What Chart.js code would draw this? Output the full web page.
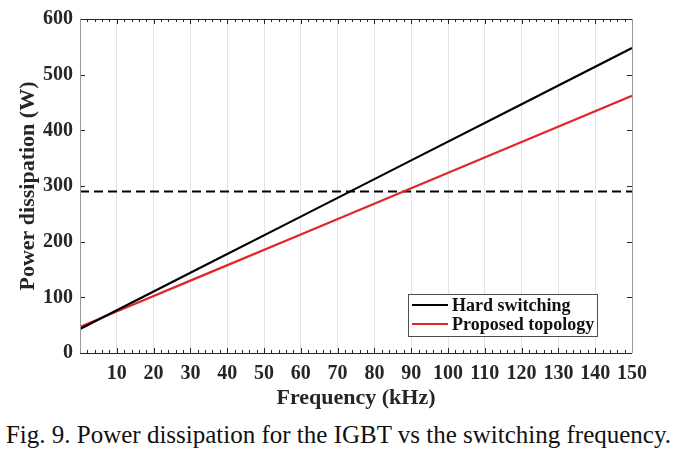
<!DOCTYPE html>
<html>
<head>
<meta charset="utf-8">
<script src="https://cdn.jsdelivr.net/npm/chart.js@4/dist/chart.umd.min.js"></script>
<style>
  body { margin: 0; background: #fff; width: 677px; height: 457px; position: relative; overflow: hidden; }
  #wrap { position: absolute; left: 0; top: 0; width: 677px; height: 415px; }
  #caption { position: absolute; left: 0; top: 421px; width: 677px; text-align: center;
             font-family: "Liberation Serif", "Times New Roman", serif; font-size: 25px; color: #111; white-space: nowrap; }
</style>
</head>
<body>
<div id="wrap"><canvas id="power-chart" width="677" height="415"></canvas></div>
<div id="caption">Fig. 9. Power dissipation for the IGBT vs the switching frequency.</div>
<script>
// valori
const frequency = [0, 30, 60, 90, 120, 150];
const hardSwitching = [43, 144, 245, 346, 447, 548];
const proposedTopology = [47, 130, 213, 296, 379, 462];
const limitFreq = [0, 150];
const limitPower = [290, 290];
const seriesLabels = ['Hard switching', 'Proposed topology'];

const serif = '"Liberation Serif", "Times New Roman", serif';

const toPoints = function(xs, ys){
    return xs.map(function(x, i){ return {x: x, y: ys[i]}; });
};

// cornice, tacche interne e legenda
const framePlugin = {
    id: 'frame',
    afterDraw: function(chart){
        const ctx = chart.ctx;
        const a = chart.chartArea;
        const xs = chart.scales.x, ys = chart.scales.y;
        ctx.save();
        ctx.lineWidth = 1;
        // tacche asse x
        ctx.strokeStyle = '#262626';
        for (let f = 0; f <= 150; f += 2) {
            let px = Math.round(xs.getPixelForValue(f)) + 0.5;
            let len = (f % 10 === 0) ? 5 : 3;
            ctx.beginPath();
            ctx.moveTo(px, a.bottom); ctx.lineTo(px, a.bottom - len);
            ctx.moveTo(px, a.top); ctx.lineTo(px, a.top + len);
            ctx.stroke();
        }
        // tacche asse y
        for (let p = 100; p < 600; p += 100) {
            let py = Math.round(ys.getPixelForValue(p)) + 0.5;
            ctx.beginPath();
            ctx.moveTo(a.left, py); ctx.lineTo(a.left + 5, py);
            ctx.moveTo(a.right, py); ctx.lineTo(a.right - 5, py);
            ctx.stroke();
        }
        // bordi
        ctx.beginPath();
        ctx.moveTo(a.left, a.top + 0.5); ctx.lineTo(a.right, a.top + 0.5);
        ctx.moveTo(a.left, a.bottom + 0.5); ctx.lineTo(a.right, a.bottom + 0.5);
        ctx.stroke();
        ctx.strokeStyle = '#9a9a9a';
        ctx.beginPath();
        ctx.moveTo(a.left + 0.5, a.top); ctx.lineTo(a.left + 0.5, a.bottom);
        ctx.moveTo(a.right + 0.5, a.top); ctx.lineTo(a.right + 0.5, a.bottom);
        ctx.stroke();

        // legenda
        const lx = 408.5, ly = 294.5, lw = 189, lh = 42;
        ctx.fillStyle = '#fff';
        ctx.fillRect(lx, ly, lw, lh);
        ctx.strokeStyle = '#4d4d4d';
        ctx.strokeRect(lx, ly, lw, lh);
        ctx.font = 'bold 18px ' + serif;
        ctx.textBaseline = 'middle';
        ctx.textAlign = 'left';
        chart.data.datasets.slice(0, 2).forEach(function(ds, i){
            let yy = 305 + i * 19;
            ctx.strokeStyle = ds.borderColor;
            ctx.lineWidth = 2;
            ctx.beginPath();
            ctx.moveTo(412, yy); ctx.lineTo(448, yy);
            ctx.stroke();
            ctx.fillStyle = '#111';
            ctx.fillText(ds.label, 452, yy + 1);
        });
        ctx.restore();
    }
};

const ctx = document.getElementById('power-chart').getContext('2d');
const powerChart = new Chart(ctx, {
    type: 'line',
    data: {
        datasets: [{
            label: seriesLabels[0],
            data: toPoints(frequency, hardSwitching),
            borderColor: '#000000',
            borderWidth: 2.2,
            pointRadius: 0,
            tension: 0
        }, {
            label: seriesLabels[1],
            data: toPoints(frequency, proposedTopology),
            borderColor: '#e0262a',
            borderWidth: 2.2,
            pointRadius: 0,
            tension: 0
        }, {
            label: 'limit',
            data: toPoints(limitFreq, limitPower),
            borderColor: '#000000',
            borderWidth: 2,
            borderDash: [9, 5],
            pointRadius: 0
        }]
    },
    options: {
        responsive: false,
        animation: false,
        layout: { padding: { top: 18, right: 45, left: 0, bottom: 0 } },
        plugins: {
            legend: { display: false },
            tooltip: { enabled: false }
        },
        scales: {
            x: {
                type: 'linear',
                min: 0,
                max: 150,
                border: { display: false },
                grid: { color: '#e4e4e4', drawTicks: false, lineWidth: 1 },
                ticks: {
                    stepSize: 10,
                    padding: 9,
                    color: '#262626',
                    font: { family: serif, size: 20, weight: 'bold' },
                    callback: function(v){ return v === 0 ? '' : v; }
                },
                title: {
                    display: true,
                    text: 'Frequency (kHz)',
                    color: '#262626',
                    font: { family: serif, size: 22, weight: 'bold' },
                    padding: { top: 0, bottom: 3 }
                },
                afterFit: function(s){ s.height = 62; }
            },
            y: {
                min: 0,
                max: 600,
                border: { display: false },
                grid: { display: false, drawTicks: false },
                ticks: {
                    stepSize: 100,
                    padding: 7,
                    color: '#262626',
                    font: { family: serif, size: 20, weight: 'bold' }
                },
                title: {
                    display: true,
                    text: 'Power dissipation (W)',
                    color: '#262626',
                    font: { family: serif, size: 22, weight: 'bold' },
                    padding: { top: 15, bottom: 0 }
                },
                afterFit: function(s){ s.width = 80; }
            }
        }
    },
    plugins: [framePlugin]
});
</script>
</body>
</html>
